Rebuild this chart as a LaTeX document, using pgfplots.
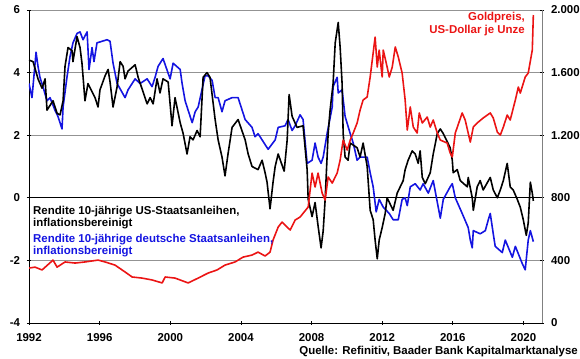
\documentclass[border=0pt]{standalone}
\usepackage{pgfplots}
\pgfplotsset{compat=1.18}
\usepackage{fontspec}
\setmainfont{Liberation Sans}
\definecolor{cblue}{RGB}{20,20,225}
\definecolor{cred}{RGB}{235,20,20}
\begin{document}
\fontsize{11.5}{13}\selectfont\bfseries
\begin{tikzpicture}
\useasboundingbox (-29bp,-36bp) rectangle (551bp,323bp);
\begin{axis}[at={(0,0)}, anchor=south west, width=513bp, height=313bp, scale only axis,
 xmin=1992, xmax=2021.05, ymin=-4, ymax=6,
 axis x line*=bottom, axis y line*=left, axis line style={-, black, line width=0.8pt},
 xtick={1992,1996,...,2020}, ytick={-4,-2,0,2,4,6},
 tick pos=left, tick align=center, major tick length=4bp, tick style={black, line width=0.8pt},
 ymajorgrids, grid style={gray!85, line width=0.8pt},
 extra y ticks={0}, extra y tick labels={}, extra y tick style={grid style={black, line width=1.4pt}},
 /pgf/number format/assume math mode=true,
 x tick label style={/pgf/number format/1000 sep={}, yshift=-4bp},
 y tick label style={xshift=-3bp},
 tick label style={font=\fontsize{11.5}{13}\selectfont\bfseries},
 every axis plot/.append style={line width=1.6pt, line join=round},
 ]
\addplot[cblue] coordinates {
(1992.00,3.65)(1992.17,3.2)(1992.40,4.65)(1992.51,4.2)(1992.62,3.85)(1992.79,3.55)(1993.02,3.1)(1993.19,3.2)
(1993.47,2.8)(1993.64,2.6)(1993.87,2.2)(1993.93,2.9)(1994.15,3.85)(1994.32,4.5)(1994.49,4.95)(1994.72,5.25)
(1994.89,5.3)(1995.06,5.05)(1995.29,5.3)(1995.40,4.1)(1995.57,4.8)(1995.68,4.35)(1995.85,4.95)(1996.42,5.05)
(1996.59,5.0)(1996.76,4.3)(1996.99,3.65)(1997.44,3.2)(1997.61,3.45)(1998.01,3.8)(1998.29,3.65)(1998.69,3.8)
(1998.97,3.55)(1999.14,3.85)(1999.31,4.2)(1999.59,4.45)(1999.99,3.8)(2000.16,4.3)(2000.56,4.1)
(2000.67,3.65)(2000.84,3.1)(2001.01,2.8)(2001.24,2.4)(2001.41,2.75)(2001.58,2.9)(2001.97,3.9)(2002.14,3.9)
(2002.37,3.75)(2002.54,3.2)(2002.71,3.2)(2002.93,2.75)(2003.10,3.1)(2003.50,3.2)(2003.84,3.2)(2004.24,2.5)
(2004.63,2.25)(2004.80,1.95)(2004.97,2.05)(2005.20,1.85)(2005.54,1.55)(2005.94,1.85)(2006.11,2.25)(2006.50,2.3)
(2006.67,2.5)(2006.90,2.15)(2007.07,2.3)(2007.35,2.65)(2007.52,2.5)(2007.75,1.1)(2008.03,1.2)(2008.20,1.75)
(2008.37,1.3)(2008.54,1.1)(2008.66,1.3)(2008.88,2.05)(2009.17,2.9)(2009.22,3.55)(2009.45,3.85)(2009.51,3.35)
(2009.73,3.45)(2009.90,2.6)(2010.19,2.05)(2010.36,1.75)(2010.58,1.2)(2010.75,1.3)(2011.15,1.3)(2011.32,0.8)
(2011.49,0.35)(2011.66,-0.45)(2011.83,-0.05)(2012.06,-0.3)(2012.40,-0.5)(2012.62,-0.7)(2012.91,-0.7)(2013.13,-0.05)
(2013.30,0.0)(2013.42,-0.25)(2013.59,0.35)(2013.87,0.45)(2014.15,0.25)(2014.32,0.45)(2014.61,0.15)(2014.89,0.55)
(2015.29,-0.65)(2015.46,-0.05)(2015.85,0.35)(2015.97,0.45)(2016.14,0.0)(2016.53,-0.5)(2016.87,-0.95)(2016.99,-1.35)
(2017.10,-1.6)(2017.16,-1.05)(2017.55,-1.15)(2017.84,-1.05)(2018.01,-0.7)(2018.12,-0.5)(2018.29,-1.15)(2018.40,-1.55)
(2018.80,-1.75)(2018.97,-1.35)(2019.37,-1.9)(2019.54,-1.55)(2019.93,-2.1)(2020.10,-2.3)(2020.27,-1.35)(2020.39,-1.05)
(2020.56,-1.4)
};
\addplot[black] coordinates {
(1992.00,4.4)(1992.23,4.35)(1992.51,3.8)(1992.74,3.5)(1992.91,3.8)(1993.02,2.8)(1993.36,3.1)(1993.59,2.7)
(1993.76,2.65)(1993.93,3.1)(1994.04,4.2)(1994.21,4.8)(1994.44,4.7)(1994.49,4.35)(1994.72,5.15)(1994.89,4.8)
(1995.00,4.3)(1995.17,3.1)(1995.34,3.65)(1995.74,3.2)(1995.91,2.9)(1996.02,3.45)(1996.31,3.9)(1996.48,4.1)
(1996.59,3.7)(1996.76,2.9)(1996.99,3.55)(1997.16,4.35)(1997.33,4.2)(1997.44,3.8)(1997.61,4.05)(1998.01,4.25)
(1998.18,3.85)(1998.69,3.0)(1998.86,3.2)(1999.03,3.0)(1999.25,3.8)(1999.42,3.35)(1999.59,3.8)(1999.88,3.7)
(2000.10,2.3)(2000.27,3.2)(2000.56,2.4)(2000.73,2.05)(2000.95,1.4)(2001.12,1.95)(2001.29,1.85)(2001.52,2.15)
(2001.69,1.95)(2001.86,3.85)(2002.08,4.0)(2002.25,3.85)(2002.54,2.5)(2002.71,1.85)(2002.93,1.3)(2003.10,0.7)
(2003.27,1.4)(2003.50,2.25)(2003.84,2.5)(2004.24,1.85)(2004.41,1.4)(2004.63,1.0)(2004.97,0.9)(2005.20,1.2)
(2005.37,0.8)(2005.48,0.5)(2005.65,-0.35)(2005.82,0.5)(2005.94,1.0)(2006.11,1.4)(2006.45,0.85)(2006.62,1.85)
(2006.73,3.3)(2006.90,2.6)(2007.18,2.25)(2007.52,2.3)(2007.75,0.9)(2007.81,-0.05)(2008.03,-0.6)(2008.20,-0.15)
(2008.37,-0.9)(2008.54,-1.6)(2008.66,-1.05)(2008.77,-0.05)(2008.94,2.05)(2009.05,2.8)(2009.22,3.65)(2009.34,4.95)
(2009.51,5.6)(2009.62,4.8)(2009.73,3.65)(2009.79,2.05)(2009.90,1.3)(2010.07,1.2)(2010.19,1.75)(2010.58,1.6)
(2010.75,1.3)(2010.92,1.75)(2011.15,1.0)(2011.32,-0.4)(2011.49,-0.7)(2011.60,-1.35)(2011.72,-1.95)(2011.83,-1.35)
(2012.00,-0.95)(2012.17,-0.5)(2012.28,0.0)(2012.62,-0.4)(2012.85,0.15)(2013.19,0.55)(2013.30,0.9)(2013.47,1.2)
(2013.70,1.5)(2013.87,1.4)(2014.04,1.1)(2014.15,1.5)(2014.27,0.65)(2014.44,0.45)(2014.72,0.8)(2014.89,1.4)
(2015.12,2.05)(2015.29,2.2)(2015.46,2.05)(2015.85,1.6)(2015.97,1.2)(2016.02,0.8)(2016.25,0.9)(2016.42,0.55)
(2016.82,0.35)(2016.87,0.65)(2017.10,0.0)(2017.16,-0.4)(2017.38,0.35)(2017.55,0.55)(2017.72,0.25)(2018.12,0.65)
(2018.29,0.25)(2018.52,0.0)(2018.69,0.25)(2018.86,0.55)(2019.08,1.1)(2019.25,0.35)(2019.42,0.25)(2019.65,-0.05)
(2019.82,-0.3)(2019.99,-0.7)(2020.16,-1.2)(2020.27,-0.8)(2020.39,0.5)(2020.50,0.15)(2020.56,-0.1)
};
\end{axis}
\begin{axis}[at={(0,0)}, anchor=south west, width=513bp, height=313bp, scale only axis,
 xmin=1992, xmax=2021.05, ymin=0, ymax=2000,
 axis x line=none, axis y line*=right, axis line style={-, gray, line width=0.8pt},
 ytick={0,400,...,2000}, ytick pos=right, tick align=center, major tick length=4bp, tick style={black, line width=0.8pt},
 /pgf/number format/assume math mode=true, /pgf/number format/1000 sep={.},
 y tick label style={xshift=3bp},
 tick label style={font=\fontsize{11.5}{13}\selectfont\bfseries},
 every axis plot/.append style={line width=1.6pt, line join=round},
 ]
\addplot[cred] coordinates {
(1992.00,351)(1992.34,357)(1992.74,339)(1993.36,402)(1993.59,357)(1994.04,390)(1994.61,383)(1995.17,390)
(1995.91,402)(1996.31,390)(1996.87,370)(1997.44,326)(1997.84,294)(1998.40,287)(1998.97,275)(1999.54,256)
(1999.71,294)(2000.27,287)(2001.01,256)(2001.58,287)(2002.14,319)(2002.65,339)(2003.10,370)(2003.67,390)
(2004.12,421)(2004.63,434)(2004.97,453)(2005.37,428)(2005.65,453)(2005.82,530)(2006.11,613)(2006.33,645)
(2006.79,594)(2007.07,658)(2007.35,677)(2007.81,741)(2008.03,958)(2008.20,869)(2008.37,958)(2008.60,830)
(2008.77,786)(2008.94,933)(2009.17,894)(2009.45,958)(2009.62,1041)(2009.79,1169)(2010.02,1105)(2010.19,1169)
(2010.36,1214)(2010.58,1278)(2010.75,1361)(2010.92,1425)(2011.15,1444)(2011.32,1572)(2011.60,1827)(2011.72,1636)
(2011.83,1744)(2012.00,1572)(2012.06,1744)(2012.28,1636)(2012.40,1572)(2012.57,1636)(2012.74,1764)(2012.91,1700)
(2013.13,1597)(2013.30,1425)(2013.42,1233)(2013.59,1380)(2013.76,1252)(2013.98,1214)(2014.10,1342)(2014.27,1278)
(2014.55,1316)(2014.72,1252)(2014.89,1297)(2015.12,1214)(2015.29,1169)(2015.68,1150)(2015.85,1086)(2015.97,1061)
(2016.14,1214)(2016.53,1342)(2016.70,1297)(2016.87,1214)(2016.99,1156)(2017.16,1252)(2017.38,1278)(2017.72,1310)
(2018.12,1342)(2018.29,1310)(2018.52,1220)(2018.69,1201)(2018.86,1252)(2019.08,1329)(2019.25,1297)(2019.54,1425)
(2019.71,1508)(2019.82,1469)(2020.10,1572)(2020.27,1597)(2020.50,1744)(2020.56,1968)
};
\end{axis}
\node[anchor=east, text=cred, align=right, inner sep=0pt, font=\fontsize{11.5}{13}\selectfont\bfseries] at (496bp,298.5bp) {Goldpreis,\\US-Dollar je Unze};
\node[anchor=west, text=black, align=left, inner sep=0pt, font=\fontsize{11.5}{11.5}\selectfont\bfseries] at (4bp,105.5bp) {Rendite 10-jährige US-Staatsanleihen,\\inflationsbereinigt};
\node[anchor=west, text=cblue, align=left, inner sep=0pt, font=\fontsize{11.5}{11.5}\selectfont\bfseries] at (4bp,77.5bp) {Rendite 10-jährige deutsche Staatsanleihen,\\inflationsbereinigt};
\node[anchor=east, inner sep=0pt, font=\fontsize{11.5}{13}\selectfont\bfseries] at (549bp,-29bp) {Quelle: Refinitiv, Baader Bank Kapitalmarktanalyse};
\end{tikzpicture}
\end{document}
